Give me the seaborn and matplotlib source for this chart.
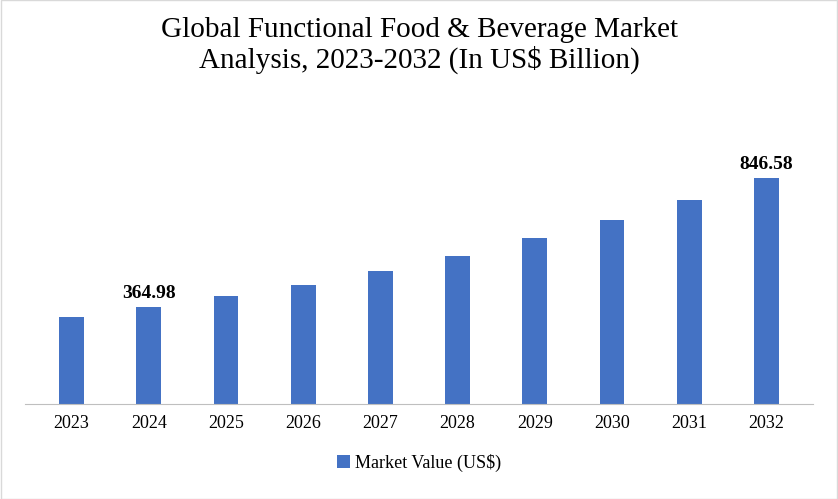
import matplotlib

matplotlib.use("Agg")
import matplotlib.pyplot as plt
import pandas as pd
import seaborn as sns

YEARS = ["2023", "2024", "2025", "2026", "2027", "2028", "2029", "2030", "2031", "2032"]
VALUES = [325.0, 364.98, 405.0, 447.0, 497.0, 555.0, 620.0, 690.0, 765.0, 846.58]
LABELLED = {"2024": "364.98", "2032": "846.58"}

df = pd.DataFrame({"Year": YEARS, "Value": VALUES})

plt.rcParams["font.family"] = "Liberation Serif"
fig = plt.figure(figsize=(8.38, 4.99), dpi=100)
ax = fig.add_axes([0.03, 0.19, 0.94, 0.56])

sns.barplot(data=df, x="Year", y="Value", color="#4472C4", saturation=1, width=0.32,
            ax=ax, label="Market Value (US$)")

for i, (y, v) in enumerate(zip(YEARS, VALUES)):
    if y in LABELLED:
        ax.text(i, v + 18, LABELLED[y], ha="center", va="bottom",
                fontsize=14, fontweight="bold")

ax.set_ylim(0, 1045)
ax.set_xlim(-0.6, len(YEARS) - 0.4)
ax.set_xlabel("")
ax.set_ylabel("")
ax.set_yticks([])
for s in ["top", "right", "left"]:
    ax.spines[s].set_visible(False)
ax.spines["bottom"].set_color("#BFBFBF")
ax.tick_params(axis="x", length=0, labelsize=13, pad=8)

ax.legend(loc="upper center", bbox_to_anchor=(0.5, -0.12), frameon=False,
          fontsize=13, handlelength=0.7, handleheight=0.7, handletextpad=0.3)

fig.suptitle("Global Functional Food & Beverage Market\nAnalysis, 2023-2032 (In US$ Billion)",
             y=0.965, fontsize=21, linespacing=1.1)

fig.patches.append(plt.Rectangle((0.001, 0.001), 0.998, 0.998, transform=fig.transFigure,
                                 fill=False, edgecolor="#D9D9D9", linewidth=1))

fig.savefig("out.png", dpi=100)
